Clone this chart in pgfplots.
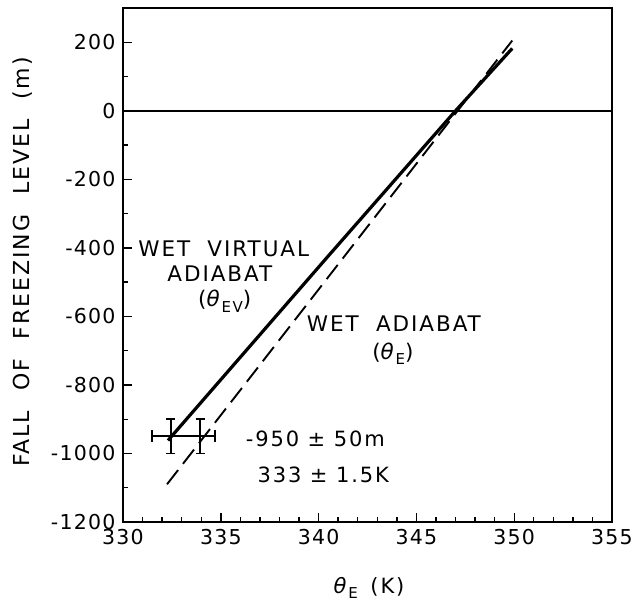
\documentclass[border=0pt]{standalone}
\usepackage{fontspec}
\setmainfont{DejaVu Sans}
\newfontfamily\wide[LetterSpace=9]{DejaVu Sans}
\newfontfamily\tickf[LetterSpace=6]{DejaVu Sans}
\usepackage{pgfplots}
\pgfplotsset{compat=1.18}
\newcommand{\thE}{\textit{θ}\raisebox{-0.45ex}{\fontsize{15}{15}\selectfont E}}
\newcommand{\thEV}{\textit{θ}\raisebox{-0.45ex}{\fontsize{15}{15}\selectfont EV}}
\begin{document}
\begin{tikzpicture}[font=\wide\fontsize{21.5}{24}\selectfont]
\begin{axis}[
  at={(0,0)}, anchor=south west,
  scale only axis, width=489pt, height=514pt,
  xmin=330, xmax=355, ymin=-1200, ymax=300,
  xtick={330,335,...,355}, minor x tick num=4,
  ytick={-1200,-1000,...,200}, minor y tick num=1,
  tick align=inside,
  xtick pos=bottom, ytick pos=left,
  major tick length=9pt, minor tick length=5pt,
  tick style={line width=1.4pt, black},
  axis line style={line width=2pt},
  tick label style={font=\tickf\fontsize{20.5}{22}\selectfont},
  /pgf/number format/assume math mode=true,
  /pgf/number format/1000 sep={},
  yticklabel style={xshift=-4pt},
  xticklabel style={yshift=-4pt},
  clip=false,
]
\addplot[black, line width=1.6pt] coordinates {(330,0) (355,0)};
\addplot[black, line width=3.2pt] coordinates {(332.3,-962) (340.4,-430) (347.0,0) (349.9,182)};
\addplot[black, line width=1.9pt, dash pattern=on 18pt off 8pt] coordinates {(332.25,-1090) (349.9,205)};
\addplot[draw=none, mark=none, line width=1.6pt,
  error bars/.cd, y dir=both, y explicit,
  error bar style={draw=black, line width=1.7pt},
  error mark options={draw=black, line width=1.7pt, mark size=4.5pt, rotate=90}]
  coordinates {(332.45,-950) +- (0,50) (333.94,-950) +- (0,50)};
\addplot[black, line width=2.2pt, mark=|, mark size=6pt, mark options={line width=1.7pt}]
  coordinates {(331.5,-950) (334.72,-950)};
\node at (axis cs:335.15,-402) {WET\hspace{0.8em}VIRTUAL};
\node at (axis cs:334.95,-475) {ADIABAT};
\node at (axis cs:335.2,-556) {(\thEV)};
\node at (axis cs:343.85,-620) {WET\hspace{0.8em}ADIABAT};
\node at (axis cs:343.8,-708) {(\thE)};
\node[anchor=west, font=\wide\fontsize{21}{22}\selectfont] at (axis cs:336.1,-957) {-950 ± 50m};
\node[anchor=west, font=\wide\fontsize{21}{22}\selectfont] at (axis cs:336.7,-1062) {333 ± 1.5K};
\end{axis}
\node[font=\wide\fontsize{21}{22}\selectfont] at (246pt,-66pt) {\thE\hspace{0.6em}(K)};
\node[rotate=90, font=\wide\fontsize{22}{24}\selectfont] at (-100pt,260pt) {FALL\hspace{0.9em}OF\hspace{0.9em}FREEZING\hspace{0.9em}LEVEL\hspace{0.9em}(m)};
\pgfresetboundingbox
\path (-123pt,-81pt) rectangle (511pt,522pt);
\end{tikzpicture}
\end{document}
